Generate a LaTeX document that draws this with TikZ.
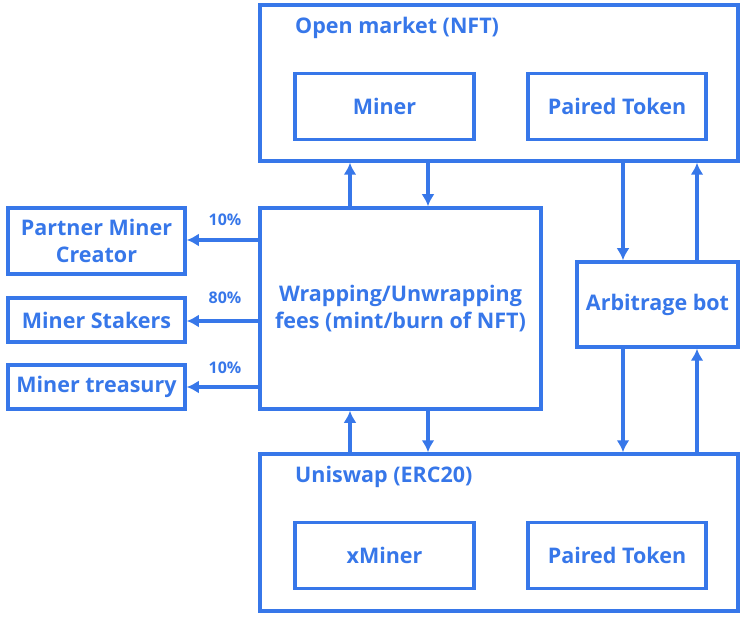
\documentclass[tikz,border=0pt]{standalone}
\usepackage{fontspec}
\usetikzlibrary{arrows.meta}
\setmainfont{Open Sans}
\definecolor{gblue}{RGB}{55,119,233}

\begin{document}
\begin{tikzpicture}[x=1pt,y=-1pt,
        box/.style={draw=gblue,line width=3.5pt,rectangle,inner sep=0pt,text=gblue,align=center,font=\fontsize{21.5}{27}\selectfont\bfseries},
        lbl/.style={text=gblue,inner sep=0pt,font=\fontsize{21.5}{27}\selectfont\bfseries},
        pct/.style={text=gblue,inner sep=0pt,font=\fontsize{16}{18}\selectfont\bfseries},
        arr/.style={->,>={Latex[length=12pt,width=13pt]},gblue,line width=3.5pt}]
        \useasboundingbox (0,0) rectangle (750,620);
        % open market
        \node[box,minimum width=478pt,minimum height=156pt] (open) at (499,83) {};
        \node[lbl,anchor=west] (opent) at (295,28) {Open market (NFT)};
        \node[box,minimum width=179pt,minimum height=66pt] (miner) at (384.5,106.5) {Miner};
        \node[box,minimum width=178pt,minimum height=66pt] (ptop) at (617,106.5) {Paired Token};
        % fees
        \node[box,minimum width=281pt,minimum height=201pt] (wrap) at (400.5,308.5) {Wrapping/Unwrapping\\fees (mint/burn of NFT)};
        \node[box,minimum width=177pt,minimum height=66pt] (partner) at (96.5,241) {Partner Miner\\Creator};
        \node[box,minimum width=177pt,minimum height=44pt] (stakers) at (96.5,320) {Miner Stakers};
        \node[box,minimum width=177pt,minimum height=44pt] (treasury) at (96.5,387) {Miner treasury};
        \node[box,minimum width=161pt,minimum height=85pt] (arb) at (657.5,304.5) {Arbitrage bot};
        % uniswap
        \node[box,minimum width=478pt,minimum height=157pt] (uni) at (499,532.5) {};
        \node[lbl,anchor=west] (unit) at (295,477) {Uniswap (ERC20)};
        \node[box,minimum width=179pt,minimum height=66pt] (xminer) at (384.5,555.5) {xMiner};
        \node[box,minimum width=178pt,minimum height=66pt] (pbot) at (617,555.5) {Paired Token};
        % shares
        \draw[arr] (wrap.west |- 0,240) -- (partner.east |- 0,240);
        \draw[arr] (wrap.west |- 0,321) -- (stakers.east |- 0,321);
        \draw[arr] (wrap.west |- 0,387) -- (treasury.east |- 0,387);
        \node[pct] (p1) at (225,220) {10\%};
        \node[pct] (p2) at (225,298) {80\%};
        \node[pct] (p3) at (225,368) {10\%};
        % wrap and unwrap
        \draw[arr] (350,0 |- wrap.north) -- (350,0 |- open.south);
        \draw[arr] (428,0 |- open.south) -- (428,0 |- wrap.north);
        \draw[arr] (350,0 |- uni.north) -- (350,0 |- wrap.south);
        \draw[arr] (428,0 |- wrap.south) -- (428,0 |- uni.north);
        % arbitrage
        \draw[arr] (623,0 |- open.south) -- (623,0 |- arb.north);
        \draw[arr] (697,0 |- arb.north) -- (697,0 |- open.south);
        \draw[arr] (623,0 |- arb.south) -- (623,0 |- uni.north);
        \draw[arr] (697,0 |- uni.north) -- (697,0 |- arb.south);
    \end{tikzpicture}
\end{document}
